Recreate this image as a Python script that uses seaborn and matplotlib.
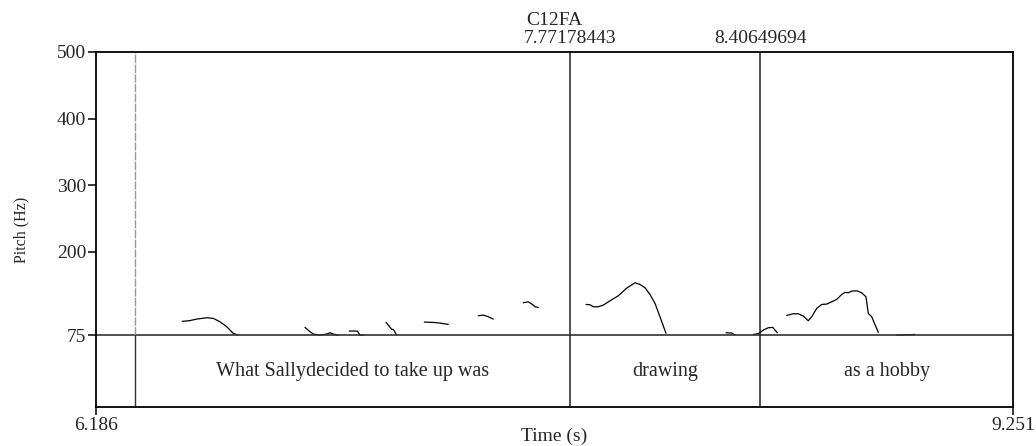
import numpy as np
import pandas as pd
import matplotlib
matplotlib.use("Agg")
import matplotlib.pyplot as plt
import seaborn as sns

# ---- data ----
title = "C12FA"
t_start, t_end = 6.186, 9.251
marks = [7.77178443, 8.40649694]
mark_labels = ["7.77178443", "8.40649694"]
tier_left = 6.315
words = ["What Sallydecided to take up was", "drawing", "as a hobby"]
y_ticks = [75, 200, 300, 400, 500]

seg_times = [
    [6.4745, 6.4982, 6.5226, 6.5560, 6.5781, 6.6004, 6.6229, 6.6449, 6.6616],
    [6.8846, 6.9013, 6.9123, 6.9347, 6.9571, 6.9681, 6.9791, 6.9959],
    [7.0326, 7.0594, 7.0684, 7.0818],
    [7.1553, 7.1630, 7.1743, 7.1797, 7.1910],
    [7.2833, 7.3134, 7.3358, 7.3635],
    [7.4638, 7.4805, 7.4972, 7.5139],
    [7.6142, 7.6309, 7.6476, 7.6533, 7.6643],
    [7.8238, 7.8371, 7.8482, 7.8649, 7.8816, 7.9040, 7.9317, 7.9598, 7.9876,
     8.0043, 8.0210, 8.0377, 8.0544, 8.0711, 8.0912],
    [8.2917, 8.3108, 8.3218],
    [8.3830, 8.3997, 8.4164, 8.4331, 8.4478, 8.4632],
    [8.4946, 8.5167, 8.5334, 8.5501, 8.5668, 8.5782, 8.5949, 8.6116, 8.6283,
     8.6450, 8.6617, 8.6784, 8.6895, 8.7005, 8.7118, 8.7286, 8.7453, 8.7596,
     8.7673, 8.7787, 8.8008],
    [8.8623, 8.9067, 8.9234],
]
seg_pitch = [
    [95.6, 96.6, 99, 101, 100, 95, 87.5, 77.5, 75],
    [86.5, 80, 76.5, 75, 76.5, 78.5, 76.5, 75],
    [81, 81, 75, 75],
    [94, 90, 83.5, 83.5, 75],
    [94.5, 94, 93, 91],
    [104, 105, 102.5, 99],
    [123.5, 125, 120, 117.5, 116.5],
    [121, 120.5, 117.5, 117.5, 120, 126.5, 134, 145.5, 153.5, 151, 146, 136,
     122.5, 102.5, 77.5],
    [78.5, 78, 75],
    [76, 77, 82.5, 86, 86.5, 78.5],
    [104.5, 107, 107, 103.5, 96.5, 102.5, 115, 121, 121.5, 125, 128.5, 136,
     139, 138.5, 141, 141.5, 138.5, 132.5, 107.5, 102.5, 79],
    [75, 75.5, 76],
]

rows = []
for i, (ts, ps) in enumerate(zip(seg_times, seg_pitch)):
    for t, p in zip(ts, ps):
        rows.append({"time": t, "pitch": p, "seg": i})
df = pd.DataFrame(rows)

# ---- style ----
sns.set_theme(style="ticks")
plt.rcParams["font.family"] = ["Liberation Serif", "DejaVu Serif"]

fig = plt.figure(figsize=(10.36, 4.46), dpi=100)
ax = fig.add_axes([96 / 1036, 1 - 407 / 446, (1013 - 96) / 1036, (407 - 52) / 446])

pitch_min, pitch_max = 75, 500
tier_bottom = pitch_min - 108
ax.set_xlim(t_start, t_end)
ax.set_ylim(tier_bottom, pitch_max)

sns.lineplot(data=df, x="time", y="pitch", units="seg", estimator=None,
             sort=False, color="black", linewidth=0.9, ax=ax, legend=False)

# tier separator and boundaries
ax.axhline(pitch_min, color="#333333", linewidth=1.2)
for m in marks:
    ax.axvline(m, color="#222222", linewidth=1.1)
ax.plot([tier_left, tier_left], [pitch_min, pitch_max], color="#999999",
        linewidth=1.0, linestyle=(0, (6, 1)))
ax.plot([tier_left, tier_left], [tier_bottom, pitch_min], color="#333333",
        linewidth=1.0)

bounds = [tier_left] + marks + [t_end]
tier_mid = (tier_bottom + pitch_min) / 2
for w, a, b in zip(words, bounds[:-1], bounds[1:]):
    ax.text((a + b) / 2, tier_mid, w, ha="center", va="center", fontsize=14.5)

# top labels
for m, lab in zip(marks, mark_labels):
    ax.text(m, pitch_max + 13, lab, ha="center", va="baseline",
            fontsize=14, clip_on=False)
ax.text((t_start + t_end) / 2, pitch_max + 40, title, ha="center",
        va="baseline", fontsize=14, clip_on=False)

ax.set_yticks(y_ticks)
ax.set_yticklabels([str(v) for v in y_ticks], fontsize=14)
ax.set_xticks([t_start, t_end])
ax.set_xticklabels(["6.186", "9.251"], fontsize=14)
ax.tick_params(axis="both", direction="out", length=6, width=1.1,
               color="black", pad=1)
ax.set_xlabel("Time (s)", fontsize=14, va="center")
ax.xaxis.set_label_coords(0.5, -0.082)
ax.set_ylabel("Pitch (Hz)", fontsize=11.5, va="center")
ax.yaxis.set_label_coords(-0.0818, 0.5)
for s in ax.spines.values():
    s.set_linewidth(1.3)
    s.set_color("black")

fig.savefig("out.png", dpi=100, facecolor="white")
